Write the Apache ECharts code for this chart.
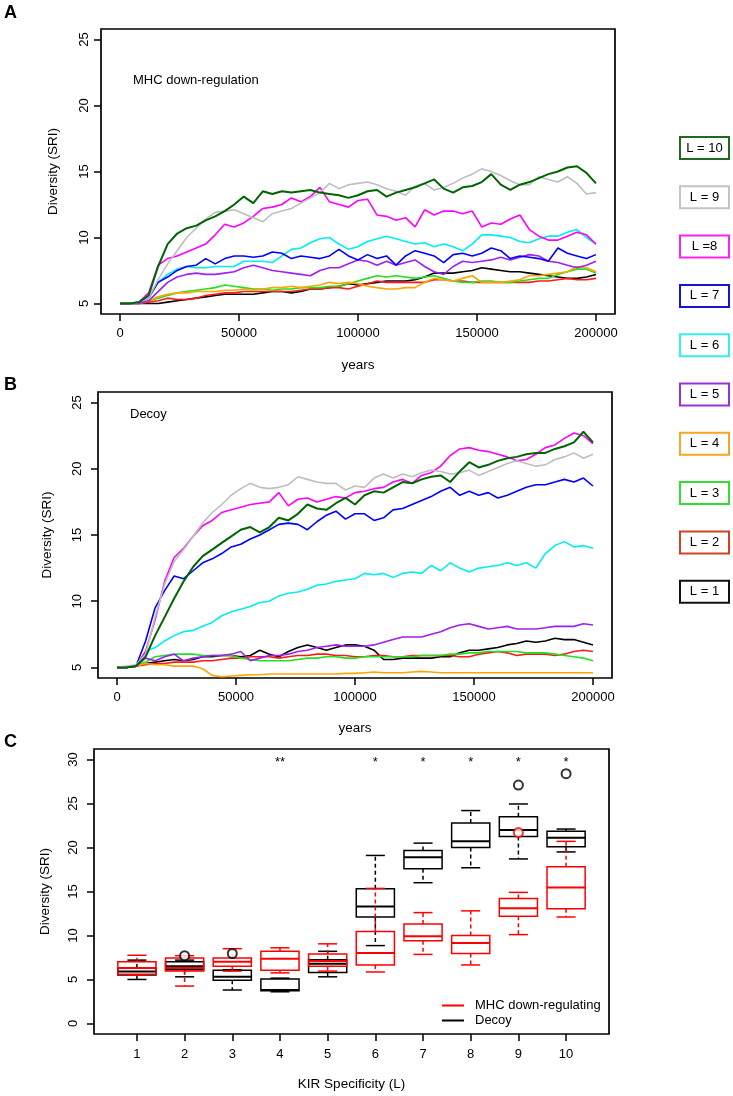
<!DOCTYPE html>
<html><head><meta charset="utf-8">
<script src="https://cdn.jsdelivr.net/npm/echarts@6/dist/echarts.min.js"></script>
<style>html,body{margin:0;padding:0;background:#fff;}#c{width:733px;height:1096px;}</style>
</head><body><div id="c"></div><script>
// ---------- DATA ----------
const years = [0,4000,8000,12000,16000,20000,24000,28000,32000,36000,40000,44000,48000,52000,56000,60000,64000,68000,72000,76000,80000,84000,88000,92000,96000,100000,104000,108000,112000,116000,120000,124000,128000,132000,136000,140000,144000,148000,152000,156000,160000,164000,168000,172000,176000,180000,184000,188000,192000,196000,200000];
const lineNames = ['L = 1','L = 2','L = 3','L = 4','L = 5','L = 6','L = 7','L = 8','L = 9','L = 10'];
const legendLabels = ['L = 10','L = 9','L =8','L = 7','L = 6','L = 5','L = 4','L = 3','L = 2','L = 1'];
const yearTicks = [0,50000,100000,150000,200000];
const sriTicksAB = [5,10,15,20,25];
const sriTicksC = [0,5,10,15,20,25,30];

// Panel A: MHC down-regulation
const mhcL1 = [5.0,5.0,5.0,5.0,5.0,5.1,5.2,5.3,5.4,5.5, 5.6,5.7,5.7,5.7,5.7,5.8,5.9,5.9,5.8,5.9, 6.1,6.1,6.2,6.3,6.5,6.4,6.5,6.6,6.7,6.7, 6.7,6.8,7.0,7.3,7.3,7.3,7.4,7.5,7.7,7.6, 7.5,7.4,7.4,7.3,7.2,7.1,7.0,6.9,6.9,7.0,7.2];
const mhcL2 = [5.0,5.0,5.0,5.1,5.2,5.4,5.3,5.3,5.4,5.6, 5.7,5.8,5.8,5.9,5.9,5.9,5.9,5.9,5.9,6.0, 6.1,6.1,6.2,6.2,6.1,6.3,6.5,6.7,6.6,6.6, 6.6,6.6,6.6,6.8,6.8,6.7,6.7,6.6,6.6,6.6, 6.6,6.6,6.6,6.6,6.7,6.7,6.8,6.9,6.8,6.8,6.9];
const mhcL3 = [5.0,5.0,5.0,5.2,5.4,5.6,5.8,5.9,6.0,6.1, 6.2,6.4,6.3,6.2,6.1,6.1,6.0,6.1,6.1,6.2, 6.2,6.2,6.3,6.3,6.5,6.7,6.9,7.1,7.0,7.1, 7.0,6.9,7.0,7.1,6.9,6.7,6.6,6.6,6.7,6.7, 6.6,6.6,6.7,6.8,6.9,6.9,7.2,7.4,7.6,7.6,7.3];
const mhcL4 = [5.0,5.0,5.0,5.2,5.5,5.7,5.8,5.8,5.9,5.9, 5.9,6.0,6.0,6.1,6.0,6.1,6.2,6.2,6.3,6.2, 6.3,6.4,6.6,6.5,6.6,6.5,6.3,6.2,6.1,6.1, 6.2,6.2,6.6,6.9,6.8,6.7,6.9,7.1,6.6,6.6, 6.6,6.7,6.8,7.1,7.1,7.2,7.3,7.4,7.8,7.7,7.4];
const mhcL5 = [5.0,5.0,5.0,5.2,5.9,6.6,7.0,7.2,7.3,7.2, 7.2,7.3,7.4,7.7,7.9,7.7,7.5,7.4,7.3,7.2, 7.1,7.5,7.7,7.7,8.0,8.3,8.2,7.9,8.2,7.9, 8.1,8.3,7.8,7.4,7.2,7.8,8.2,8.1,8.2,8.3, 8.5,8.3,8.5,8.7,8.6,8.2,8.1,7.9,7.7,7.9,8.2];
const mhcL6 = [5.0,5.0,5.1,5.6,6.6,7.2,7.6,7.8,7.7,7.7, 7.8,7.8,7.8,8.2,8.2,8.2,8.1,8.6,9.1,9.2, 9.6,9.9,10.0,9.5,9.1,9.3,9.7,9.9,10.1,9.9, 9.7,9.5,9.6,9.3,9.5,9.3,9.0,9.5,10.2,10.2, 10.1,10.0,9.7,9.6,9.9,10.1,10.1,10.4,10.6,10.0,9.5];
const mhcL7 = [5.0,5.0,5.1,5.4,6.6,7.0,7.5,7.8,7.9,8.4, 8.0,8.4,8.6,8.6,8.5,8.6,8.9,8.8,8.4,8.6, 8.5,8.4,8.6,9.1,8.6,8.3,8.7,8.4,8.6,7.9, 8.6,9.0,8.8,8.6,8.1,8.7,8.8,8.6,8.8,9.2, 9.0,8.4,8.6,8.5,8.4,8.2,9.2,8.8,8.6,8.4,8.7];
const mhcL8 = [5.0,5.0,5.1,5.8,7.9,8.4,8.6,8.9,9.2,9.5, 10.2,11.0,10.8,11.1,11.6,12.2,12.3,12.5,13.0,12.7, 13.1,13.8,12.7,12.5,12.3,12.8,12.9,11.7,11.6,11.3, 11.5,10.8,12.1,11.7,12.0,12.0,11.8,12.0,10.8,11.1, 11.0,11.4,11.7,10.6,10.1,9.8,9.8,10.1,10.4,10.2,9.5];
const mhcL9 = [5.0,5.0,5.1,5.4,6.8,8.0,9.0,10.0,10.7,11.4, 11.9,12.0,12.1,11.8,11.5,11.2,11.8,12.0,12.2,12.6, 13.0,13.4,14.1,13.7,14.0,14.1,14.2,14.0,13.7,13.5, 13.2,13.9,14.1,13.6,13.8,14.1,14.5,14.8,15.2,15.0, 14.7,14.3,14.0,14.0,14.6,14.4,14.2,14.6,14.1,13.3,13.4];
const mhcL10 = [5.0,5.0,5.1,5.6,7.8,9.5,10.3,10.7,10.9,11.3, 11.6,12.0,12.5,13.1,12.6,13.5,13.3,13.5,13.4,13.5, 13.6,13.4,13.3,13.2,13.0,13.2,13.5,13.6,13.1,13.4, 13.6,13.8,14.1,14.4,13.7,13.4,13.8,13.9,14.2,14.8, 14.0,13.6,14.0,14.2,14.5,14.8,15.0,15.3,15.4,14.9,14.1];

// Panel B: Decoy
const decoyL1 = [5.0,5.0,5.1,5.3,5.4,5.5,5.6,5.5,5.6,5.8, 5.8,5.9,5.9,5.8,5.9,6.3,6.0,5.8,6.2,6.5, 6.7,6.5,6.3,6.5,6.7,6.7,6.6,6.3,5.6,5.6, 5.7,5.7,5.7,5.7,5.8,5.8,6.1,6.3,6.3,6.4, 6.5,6.7,6.8,7.0,6.9,7.0,7.2,7.1,7.1,6.9,6.7];
const decoyL2 = [5.0,5.0,5.1,5.2,5.3,5.3,5.4,5.4,5.4,5.5, 5.5,5.6,5.7,5.7,5.8,5.8,5.8,5.7,5.8,5.9, 5.9,6.0,6.0,5.9,5.9,5.8,5.8,5.9,5.9,5.8, 5.8,5.9,5.9,5.9,5.9,5.9,5.8,5.8,6.0,6.1, 6.2,6.1,5.9,6.0,6.0,6.0,5.9,6.0,6.2,6.3,6.2];
const decoyL3 = [5.0,5.0,5.1,5.4,5.8,5.9,6.0,6.0,6.0,5.9, 5.9,5.9,5.9,5.7,5.6,5.5,5.5,5.5,5.5,5.6, 5.7,5.7,5.8,5.8,5.7,5.7,5.8,5.8,5.8,5.8, 5.8,5.8,5.9,5.9,5.9,6.0,6.0,6.1,6.1,6.2, 6.2,6.2,6.2,6.1,6.1,6.1,6.0,5.9,5.8,5.7,5.5];
const decoyL4 = [5.0,5.0,5.1,5.3,5.2,5.2,5.1,5.1,5.1,4.9, 4.4,4.3,4.35,4.4,4.45,4.45,4.5,4.5,4.5,4.5, 4.5,4.5,4.5,4.5,4.55,4.55,4.6,4.65,4.6,4.6, 4.6,4.65,4.7,4.65,4.6,4.6,4.6,4.6,4.6,4.6, 4.6,4.6,4.6,4.6,4.6,4.6,4.6,4.6,4.6,4.6,4.6];
const decoyL5 = [5.0,5.0,5.1,5.7,5.5,5.8,6.0,5.5,5.7,5.8, 5.9,5.9,6.0,6.2,5.5,5.7,5.9,5.9,6.0,6.2, 6.3,6.5,6.6,6.7,6.6,6.6,6.6,6.7,6.9,7.1, 7.3,7.3,7.3,7.5,7.7,8.0,8.2,8.3,8.1,7.9, 8.0,8.1,7.9,7.9,7.9,8.0,8.1,8.1,8.1,8.3,8.2];
const decoyL6 = [5.0,5.0,5.1,6.2,6.5,7.0,7.4,7.7,7.8,8.1, 8.4,8.9,9.2,9.4,9.6,9.9,10.0,10.4,10.6,10.7, 10.9,11.2,11.3,11.5,11.6,11.7,12.1,12.0,12.1,11.8, 12.1,12.2,12.1,12.7,12.3,12.9,12.5,12.2,12.5,12.6, 12.7,12.9,12.7,12.9,12.5,13.6,14.2,14.5,14.1,14.2,14.0];
const decoyL7 = [5.0,5.0,5.1,7.0,9.5,10.8,11.9,11.7,12.3,12.9, 13.2,13.6,14.1,14.3,14.7,15.0,15.4,15.8,15.9,15.8, 15.4,16.0,16.5,16.8,16.2,16.6,16.6,16.1,16.3,16.9, 17.0,17.3,17.6,17.9,18.3,18.6,18.0,18.3,18.0,18.2, 17.8,18.0,18.3,18.6,18.8,18.8,19.0,19.2,19.0,19.3,18.7];
const decoyL8 = [5.0,5.0,5.1,6.2,8.6,11.5,13.3,14.0,14.9,15.7, 16.1,16.7,16.9,17.1,17.3,17.4,17.5,18.2,17.2,17.7, 17.8,17.5,17.7,17.9,17.8,18.2,18.3,18.5,18.6,19.0, 19.2,18.9,19.5,19.7,20.2,21.0,21.5,21.6,21.4,21.3, 21.1,20.9,20.6,20.7,21.1,21.6,21.8,22.3,22.7,22.5,21.9];
const decoyL9 = [5.0,5.1,5.2,6.0,8.8,11.3,13.0,13.9,14.9,15.9, 16.7,17.3,18.0,18.5,18.9,18.6,18.5,18.6,18.8,19.4, 19.2,19.0,18.9,18.9,18.4,18.7,18.6,19.3,19.6,19.3, 19.6,19.4,19.7,19.9,19.8,19.6,19.7,19.9,19.5,19.8, 20.1,20.4,20.6,20.4,20.2,20.3,20.7,20.9,21.2,20.8,21.1];
const decoyL10 = [5.0,5.0,5.1,5.8,7.4,8.8,10.2,11.5,12.6,13.4, 13.9,14.4,14.9,15.4,15.6,15.2,15.6,16.3,16.1,16.6, 17.3,17.0,16.9,17.4,17.8,17.3,18.0,18.3,18.2,18.6, 19.0,18.9,19.2,19.4,19.5,19.0,19.8,20.5,20.1,20.3, 20.6,20.8,20.9,21.1,21.2,21.2,21.5,21.7,22.0,22.8,22.0];

// Panel C: boxplots [lower whisker, Q1, median, Q3, upper whisker]
const kirGroups = [1,2,3,4,5,6,7,8,9,10];
const kirTicks = [1,2,3,4,5,6,7,8,9,10];
const mhcBox = [
  [5.5,5.6,6.3,7.0,7.75],
  [4.25,5.95,6.3,7.45,7.7],
  [5.95,6.5,7.0,7.45,8.5],
  [5.75,6.05,7.35,8.2,8.6],
  [5.95,6.5,7.1,7.9,9.05],
  [5.85,6.65,8.0,10.45,15.35],
  [7.85,9.4,9.9,11.3,12.6],
  [6.65,7.95,9.15,10.0,12.8],
  [10.1,12.2,13.1,14.2,14.9],
  [12.1,13.05,15.45,17.8,20.7]
];
const decoyBox = [
  [5.0,5.5,5.9,6.3,7.2],
  [5.3,6.1,6.5,7.0,7.2],
  [3.8,4.9,5.3,6.05,6.1],
  [3.6,3.72,3.8,5.05,5.15],
  [5.3,5.8,6.8,7.25,8.2],
  [8.85,12.1,13.3,15.3,19.1],
  [16.0,17.6,18.9,19.65,20.5],
  [17.7,20.0,20.7,22.8,24.2],
  [18.7,21.25,22.0,23.5,24.95],
  [19.5,20.1,21.1,21.85,22.1]
];
const mhcOutlierX = [9];
const mhcOutlierY = [21.7];
const decoyOutlierX = [2,3,9,10];
const decoyOutlierY = [7.7,7.95,27.1,28.4];
const sigX = [4,6,7,8,9,10];
const sigY = [30,30,30,30,30,30];
const sigText = ['**','*','*','*','*','*'];

// ---------- STYLE ----------
const FONT = '"Liberation Sans", Arial, Helvetica, sans-serif';
const lineColors = ['#000000','#ff1a1a','#22e022','#ffa500','#a020f0','#00eeee','#0000ff','#ff00ff','#bebebe','#006400'];
const legendColors = ['#1f6b1f','#c4c4c4','#ff22ee','#1515cc','#33eeee','#9b30d9','#f5a623','#33dd33','#d24222','#111111'];
const mhcSeries = [mhcL1,mhcL2,mhcL3,mhcL4,mhcL5,mhcL6,mhcL7,mhcL8,mhcL9,mhcL10];
const decoySeries = [decoyL1,decoyL2,decoyL3,decoyL4,decoyL5,decoyL6,decoyL7,decoyL8,decoyL9,decoyL10];

const chart = echarts.init(document.getElementById('c'), null, {renderer:'canvas'});

function gridBox(left, top, width, height){
  return {left, top, width, height, show:true, borderColor:'#000', borderWidth:1.7, backgroundColor:'rgba(0,0,0,0)', containLabel:false, outerBoundsMode:'none'};
}
const plain = v => String(v);
function xAx(gi, min, max, ticks, name, labelMargin, nameGap){
  return {type:'value', gridIndex:gi, min, max, position:'bottom',
    axisLine:{show:false, onZero:false}, splitLine:{show:false},
    axisTick:{show:true, inside:false, length:7, lineStyle:{color:'#000', width:1.5}, customValues:ticks},
    axisLabel:{customValues:ticks, formatter:plain, margin:labelMargin, color:'#000', fontSize:13, fontFamily:FONT},
    name, nameLocation:'middle', nameGap, nameTextStyle:{color:'#000', fontSize:13.5, fontFamily:FONT}};
}
function yAx(gi, min, max, ticks, labelMargin, nameGap){
  return {type:'value', gridIndex:gi, min, max, position:'left',
    axisLine:{show:false, onZero:false}, splitLine:{show:false},
    axisTick:{show:true, inside:false, length:7, lineStyle:{color:'#000', width:1.5}, customValues:ticks},
    axisLabel:{customValues:ticks, formatter:plain, rotate:90, margin:labelMargin, color:'#000', fontSize:13, fontFamily:FONT},
    name:'Diversity (SRI)', nameLocation:'middle', nameGap, nameTextStyle:{color:'#000', fontSize:13.5, fontFamily:FONT}};
}

const series = [];
[mhcSeries, decoySeries].forEach((group, gi) => {
  group.forEach((arr, i) => {
    series.push({
      type:'line', name:lineNames[i], xAxisIndex:gi, yAxisIndex:gi,
      data: years.map((y, k) => [y, arr[k]]),
      showSymbol:false, symbol:'none', smooth:false,
      lineStyle:{color:lineColors[i], width: i === 9 ? 2 : 1.6},
      itemStyle:{color:lineColors[i]},
      z: 2 + i
    });
  });
});

function boxRenderer(color){
  return function(params, api){
    const x = api.value(0);
    const lo = api.value(1), q1 = api.value(2), med = api.value(3), q3 = api.value(4), hi = api.value(5);
    const bw = 0.4, cw = 0.2;
    const p = (a, b) => api.coord([a, b]);
    const seg = (a, b) => ({x1:a[0], y1:a[1], x2:b[0], y2:b[1]});
    const solid = {stroke:color, lineWidth:1.5, fill:null};
    const dash = {stroke:color, lineWidth:1.5, lineDash:[4,3], fill:null};
    const tl = p(x - bw, q3), br = p(x + bw, q1);
    return {type:'group', children:[
      {type:'line', shape:seg(p(x, q3), p(x, hi)), style:dash},
      {type:'line', shape:seg(p(x, q1), p(x, lo)), style:dash},
      {type:'line', shape:seg(p(x - cw, hi), p(x + cw, hi)), style:solid},
      {type:'line', shape:seg(p(x - cw, lo), p(x + cw, lo)), style:solid},
      {type:'rect', shape:{x:tl[0], y:tl[1], width:br[0] - tl[0], height:br[1] - tl[1]}, style:{stroke:color, lineWidth:1.5, fill:'none'}},
      {type:'line', shape:seg(p(x - bw, med), p(x + bw, med)), style:{stroke:color, lineWidth:2}}
    ]};
  };
}

series.push({
  type:'custom', name:'Decoy', xAxisIndex:2, yAxisIndex:2,
  itemStyle:{color:'#000000'},
  renderItem: boxRenderer('#000000'),
  encode:{x:0, y:[1,2,3,4,5]},
  data: kirGroups.map((g, i) => [g].concat(decoyBox[i])), z:3
});
series.push({
  type:'custom', name:'MHC down-regulating', xAxisIndex:2, yAxisIndex:2,
  itemStyle:{color:'#ff0000'},
  renderItem: boxRenderer('#ff0000'),
  encode:{x:0, y:[1,2,3,4,5]},
  data: kirGroups.map((g, i) => [g].concat(mhcBox[i])), z:4
});
series.push({
  type:'scatter', name:'Decoy', xAxisIndex:2, yAxisIndex:2,
  symbol:'emptyCircle', symbolSize:9,
  itemStyle:{color:'#000000', borderColor:'#000000', borderWidth:2},
  data: decoyOutlierX.map((x, i) => [x, decoyOutlierY[i]]), z:5
});
series.push({
  type:'scatter', name:'MHC down-regulating', xAxisIndex:2, yAxisIndex:2,
  symbol:'emptyCircle', symbolSize:9,
  itemStyle:{color:'#ff0000', borderColor:'#ff0000', borderWidth:2},
  data: mhcOutlierX.map((x, i) => [x, mhcOutlierY[i]]), z:6
});
series.push({
  type:'custom', name:'significance', xAxisIndex:2, yAxisIndex:2,
  renderItem: function(params, api){
    const pt = api.coord([api.value(0), api.value(1)]);
    return {type:'text', x:pt[0], y:pt[1] + 3, style:{text:sigText[params.dataIndex], fill:'#000', font:'13px ' + FONT, align:'center', verticalAlign:'middle'}};
  },
  data: sigX.map((x, i) => [x, sigY[i]]), z:7
});

// right legend boxes (graphic)
const legendGraphics = [];
legendLabels.forEach((lab, i) => {
  const cy = 148 + i * 49.3;
  legendGraphics.push({type:'rect', shape:{x:680, y:cy - 11, width:49, height:22}, style:{fill:'#fff', stroke:legendColors[i], lineWidth:2}});
  legendGraphics.push({type:'text', x:704.5, y:cy, style:{text:lab, fill:'#000', font:'13px ' + FONT, align:'center', verticalAlign:'middle'}});
});

const option = {
  animation:false,
  backgroundColor:'#ffffff',
  textStyle:{fontFamily:FONT},
  grid:[gridBox(101,29,514,285), gridBox(98,392,514,286), gridBox(94,749,515,285)],
  xAxis:[
    xAx(0, -8000, 208000, yearTicks, 'years', 13, 44),
    xAx(1, -8000, 208000, yearTicks, 'years', 13, 43),
    xAx(2, 0.1, 10.9, kirTicks, 'KIR Specificity (L)', 14, 43)
  ],
  yAxis:[
    yAx(0, 4.2, 25.8, sriTicksAB, 10, 41),
    yAx(1, 4.2, 25.8, sriTicksAB, 14, 44),
    yAx(2, -1.2, 31.2, sriTicksC, 14, 42)
  ],
  legend:{
    left:437, top:993, orient:'vertical', itemWidth:22, itemHeight:2, itemGap:0, icon:'rect',
    data:['MHC down-regulating','Decoy'],
    textStyle:{color:'#000', fontSize:13, lineHeight:15, fontFamily:FONT, padding:[0,0,0,6]},
    selectedMode:false
  },
  graphic:[
    {type:'text', x:4, y:13, style:{text:'A', fill:'#000', font:'bold 18px ' + FONT, verticalAlign:'middle'}},
    {type:'text', x:4, y:385, style:{text:'B', fill:'#000', font:'bold 18px ' + FONT, verticalAlign:'middle'}},
    {type:'text', x:4, y:742, style:{text:'C', fill:'#000', font:'bold 18px ' + FONT, verticalAlign:'middle'}},
    {type:'text', x:133, y:80, style:{text:'MHC down-regulation', fill:'#000', font:'13px ' + FONT, verticalAlign:'middle'}},
    {type:'text', x:130, y:414, style:{text:'Decoy', fill:'#000', font:'13px ' + FONT, verticalAlign:'middle'}}
  ].concat(legendGraphics),
  series
};
chart.setOption(option);
</script></body></html>
